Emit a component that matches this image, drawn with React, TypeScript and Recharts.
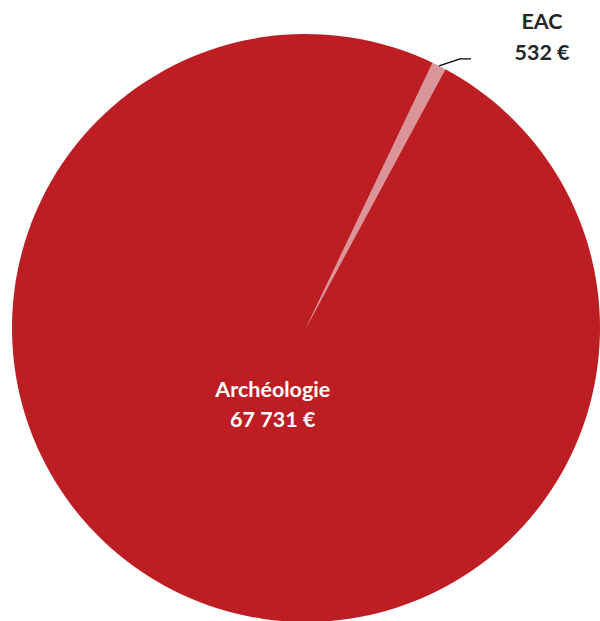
import React from "react";
import { PieChart, Pie, Cell } from "recharts";

const categories = ["EAC", "Archéologie"];
const values = [532, 67731];
const valueLabels = ["532 €", "67 731 €"];
const colors = ["#DA9599", "#BD1E24"];

const data = categories.map((name, i) => ({ name, value: values[i], label: valueLabels[i] }));

const RAD = Math.PI / 180;
const FONT = "Lato, 'Open Sans', sans-serif";

const renderLabel = (props: any) => {
  const { cx, cy, midAngle, outerRadius, index } = props;
  const d = data[index];
  if (index === 0) {
    const sx = cx + outerRadius * Math.cos(-midAngle * RAD);
    const sy = cy + outerRadius * Math.sin(-midAngle * RAD);
    const mx = sx + 21;
    const my = sy - 7;
    const ex = mx + 11;
    return (
      <g>
        <polyline points={`${sx},${sy} ${mx},${my} ${ex},${my}`} fill="none" stroke="#000" strokeWidth={1.3} />
        <text x={ex + 71} y={my - 30} textAnchor="middle" fill="#262626" fontFamily={FONT} fontWeight={700} fontSize={21.5}>
          <tspan x={ex + 71} dy={0}>{d.name}</tspan>
          <tspan x={ex + 71} dy={31}>{d.label}</tspan>
        </text>
      </g>
    );
  }
  const r = outerRadius * 0.28;
  const x = cx + r * Math.cos(-midAngle * RAD) + 4;
  const y = cy + r * Math.sin(-midAngle * RAD);
  return (
    <text x={x} y={y - 4} textAnchor="middle" fill="#FFFFFF" fontFamily={FONT} fontWeight={700} fontSize={21.5}>
      <tspan x={x} dy={0}>{d.name}</tspan>
      <tspan x={x} dy={30}>{d.label}</tspan>
    </text>
  );
};

export default function App() {
  return (
    <div style={{ position: "absolute", left: 0, top: 0, width: 600, height: 621, background: "#fff" }}>
      <PieChart width={600} height={621}>
        <Pie
          data={data}
          dataKey="value"
          nameKey="name"
          cx={301}
          cy={323}
          outerRadius={294}
          startAngle={64.5}
          endAngle={-295.5}
          stroke="none"
          label={renderLabel}
          labelLine={false}
          isAnimationActive={false}
        >
          {data.map((d, i) => (
            <Cell key={d.name} fill={colors[i]} />
          ))}
        </Pie>
      </PieChart>
    </div>
  );
}
